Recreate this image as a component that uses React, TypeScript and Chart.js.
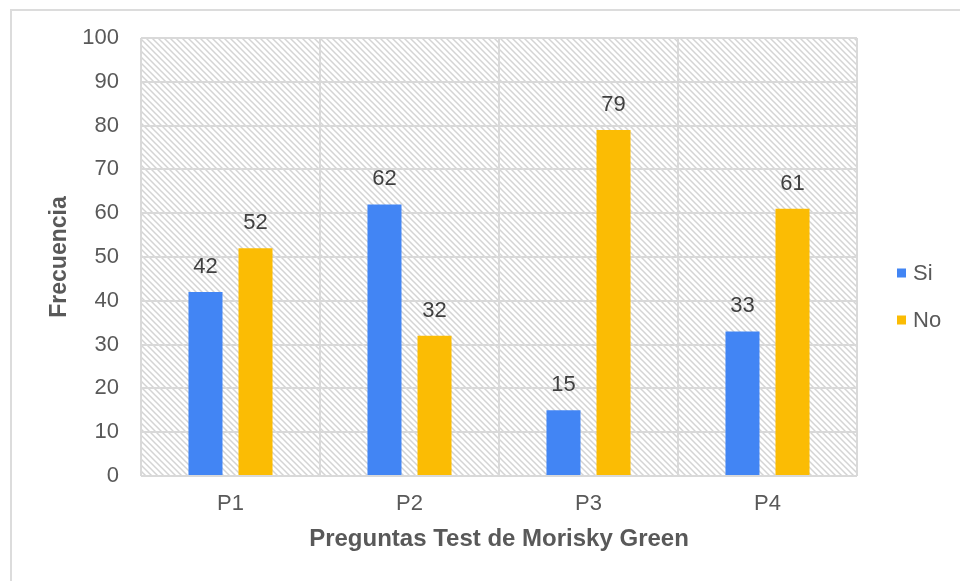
import React, { useEffect, useRef } from "react";
import { Chart, registerables } from "chart.js";

Chart.register(...registerables);

const categories = ["P1", "P2", "P3", "P4"];
const siValues = [42, 62, 15, 33];
const noValues = [52, 32, 79, 61];
const seriesNames = ["Si", "No"];
const seriesColors = ["#4285F4", "#FBBC04"];
const yTitle = "Frecuencia";
const xTitle = "Preguntas Test de Morisky Green";

const FONT = "'Liberation Sans', Arial, sans-serif";
const TEXT = "#595959";
const GRID = "#d9d9d9";

function makePattern(ctx: CanvasRenderingContext2D) {
  const c = document.createElement("canvas");
  const s = 6;
  c.width = s;
  c.height = s;
  const p = c.getContext("2d")!;
  p.fillStyle = "#ffffff";
  p.fillRect(0, 0, s, s);
  p.strokeStyle = "#d4d4d4";
  p.lineWidth = 1.5;
  p.beginPath();
  p.moveTo(-1, -1);
  p.lineTo(s + 1, s + 1);
  p.moveTo(-1, s - 1);
  p.lineTo(1, s + 1);
  p.moveTo(s - 1, -1);
  p.lineTo(s + 1, 1);
  p.stroke();
  return ctx.createPattern(c, "repeat");
}

const hatchPlugin = {
  id: "hatch",
  beforeDraw(chart: any) {
    const { ctx, chartArea } = chart;
    const pat = makePattern(ctx);
    if (!pat) return;
    ctx.save();
    ctx.fillStyle = pat;
    ctx.fillRect(chartArea.left, chartArea.top, chartArea.right - chartArea.left, chartArea.bottom - chartArea.top);
    ctx.restore();
  },
};

const labelPlugin = {
  id: "valueLabels",
  afterDatasetsDraw(chart: any) {
    const { ctx } = chart;
    ctx.save();
    ctx.font = `22px ${FONT}`;
    ctx.fillStyle = "#404040";
    ctx.textAlign = "center";
    ctx.textBaseline = "alphabetic";
    chart.data.datasets.forEach((ds: any, i: number) => {
      const meta = chart.getDatasetMeta(i);
      meta.data.forEach((bar: any, j: number) => {
        ctx.fillText(String(ds.data[j]), bar.x, bar.y - 19);
      });
    });
    ctx.restore();
  },
};

const legendPlugin = {
  id: "customLegend",
  afterDraw(chart: any) {
    const { ctx } = chart;
    ctx.save();
    ctx.font = `22px ${FONT}`;
    ctx.textBaseline = "middle";
    ctx.textAlign = "left";
    seriesNames.forEach((name, i) => {
      const cy = 273 + i * 47;
      ctx.fillStyle = seriesColors[i];
      ctx.fillRect(897, cy - 4.5, 9, 9);
      ctx.fillStyle = TEXT;
      ctx.fillText(name, 913, cy + 1);
    });
    ctx.restore();
  },
};

export default function App() {
  const ref = useRef<HTMLCanvasElement>(null);
  useEffect(() => {
    if (!ref.current) return;
    const chart = new Chart(ref.current, {
      type: "bar",
      data: {
        labels: categories,
        datasets: [
          { label: seriesNames[0], data: siValues, backgroundColor: seriesColors[0] },
          { label: seriesNames[1], data: noValues, backgroundColor: seriesColors[1] },
        ],
      },
      options: {
        responsive: false,
        animation: false,
        devicePixelRatio: 1,
        datasets: { bar: { categoryPercentage: 0.559, barPercentage: 0.68 } },
        layout: { padding: { left: 10, right: 103, top: 38, bottom: 0 } },
        plugins: { legend: { display: false }, tooltip: { enabled: false } },
        scales: {
          x: {
            afterFit: (s: any) => { s.height = 105; },
            grid: { offset: true, color: GRID, lineWidth: 2, drawTicks: false },
            border: { display: false },
            ticks: { color: TEXT, font: { size: 22, family: FONT }, padding: 15 },
            title: {
              display: true,
              text: xTitle,
              color: TEXT,
              font: { size: 24, weight: "bold", family: FONT },
              padding: { top: 0, bottom: 27 },
            },
          },
          y: {
            min: 0,
            max: 100,
            afterFit: (s: any) => { s.width = 131; },
            grid: { color: GRID, lineWidth: 2, drawTicks: false },
            border: { display: false },
            ticks: { stepSize: 10, color: TEXT, font: { size: 22, family: FONT }, padding: 22 },
            title: {
              display: true,
              text: yTitle,
              color: TEXT,
              font: { size: 23, weight: "bold", family: FONT },
              padding: { top: 36, bottom: 0 },
            },
          },
        },
      },
      plugins: [hatchPlugin, labelPlugin, legendPlugin],
    });
    return () => chart.destroy();
  }, []);

  return (
    <div style={{ position: "fixed", left: 0, top: 0, width: 960, height: 581, overflow: "hidden", background: "#fff" }}>
      <div style={{ position: "absolute", left: 10, top: 9, width: 1000, height: 1000, border: "2px solid #dcdcdc" }} />
      <canvas ref={ref} width={960} height={581} style={{ position: "absolute", left: 0, top: 0 }} />
    </div>
  );
}
